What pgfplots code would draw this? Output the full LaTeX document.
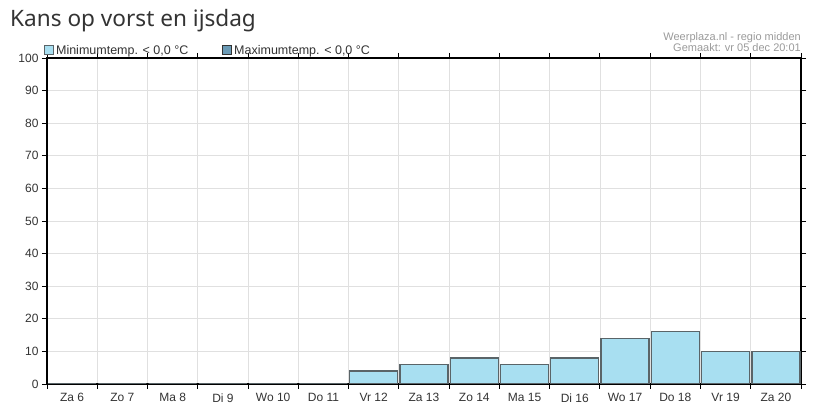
\documentclass[border=0pt]{standalone}
\usepackage{fontspec}
\setmainfont{Liberation Sans}
\newfontfamily\titlefont{Noto Sans}
\usepackage{pgfplots}
\pgfplotsset{compat=1.18}
\definecolor{minblue}{HTML}{A8DFF1}
\definecolor{maxblue}{HTML}{6A9AB5}
\definecolor{bardraw}{HTML}{5A6468}
\definecolor{gridgray}{HTML}{E0E0E0}
\definecolor{txt}{HTML}{333333}
\definecolor{credit}{HTML}{9A9A9A}

\begin{document}
\begin{tikzpicture}[x=1pt,y=1pt]
\useasboundingbox (0,0) rectangle (814,415);
\node[anchor=base west, inner sep=0, text=txt,
      font=\titlefont\fontsize{22.6}{26}\selectfont] at (10,388) {Kans op vorst en ijsdag};
\node[anchor=base east, inner sep=0, text=credit, font=\fontsize{11}{12}\selectfont]
  at (801,374) {Weerplaza.nl - regio midden};
\node[anchor=base east, inner sep=0, text=credit, font=\fontsize{11}{12}\selectfont]
  at (801,363) {Gemaakt: vr 05 dec 20:01};

\begin{axis}[
    at={(47pt,31pt)}, anchor=south west,
    scale only axis, width=754pt, height=326pt,
    xmin=0, xmax=15, ymin=0, ymax=100,
    ytick={0,10,...,100},
    xtick={0.5,1.5,...,14.5},
    xticklabels={Za 6,Zo 7,Ma 8,Di 9,Wo 10,Do 11,Vr 12,Za 13,Zo 14,Ma 15,Di 16,Wo 17,Do 18,Vr 19,Za 20},
    minor xtick={0,1,...,15},
    ymajorgrids, xminorgrids,
    grid style={gridgray, line width=0.8pt},
    minor grid style={gridgray, line width=0.8pt},
    major x tick style={draw=none},
    tick align=outside, major tick length=5pt, minor tick length=5pt,
    tick style={black, line width=0.9pt},
    axis line style={black, line width=1.3pt},
    tick label style={font=\fontsize{12}{14}\selectfont, text=txt},
    xticklabel style={yshift=-1pt},
    /pgf/number format/assume math mode=true,
    legend columns=2,
    legend style={at={(0,1)}, anchor=south west, xshift=-6pt, yshift=-2pt,
        draw=none, fill=none, font=\fontsize{12.5}{14}\selectfont, text=txt,
        /tikz/every even column/.append style={column sep=32pt}},
    legend image code/.code={\draw[#1, line width=0.9pt] (0pt,-3.5pt) rectangle (9pt,5.5pt);},
]
\addplot[ybar, bar width=0.955, fill=minblue, draw=bardraw, line width=1.3pt]
  coordinates {(0.5,0)(1.5,0)(2.5,0)(3.5,0)(4.5,0)(5.5,0)(6.5,4)(7.5,6)(8.5,8)
               (9.5,6)(10.5,8)(11.5,14)(12.5,16)(13.5,10)(14.5,10)};
\addlegendentry{Minimumtemp. < 0,0 °C}
\addlegendimage{fill=maxblue, draw=txt}
\addlegendentry{Maximumtemp. < 0,0 °C}
\end{axis}
\end{tikzpicture}
\end{document}
